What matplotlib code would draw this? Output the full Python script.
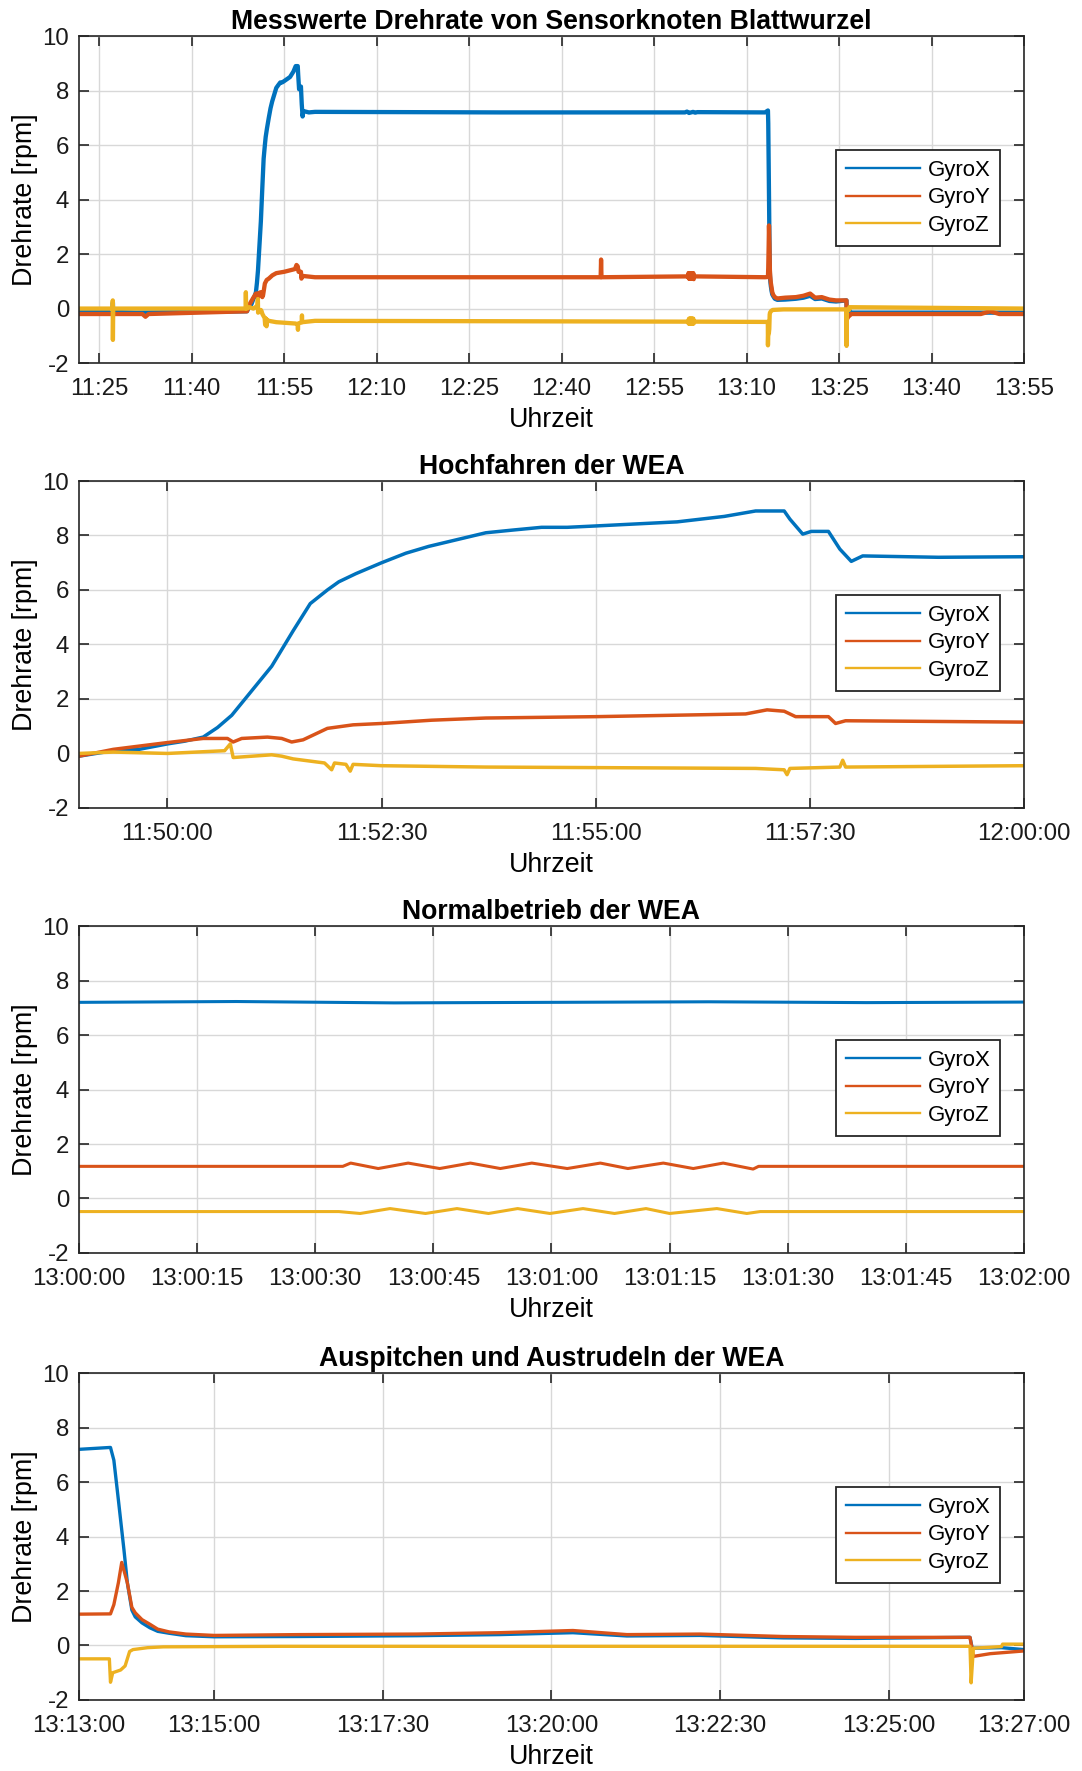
"""Drehrate der Sensorknoten an der Blattwurzel: Gesamtverlauf und drei Ausschnitte."""

import matplotlib

matplotlib.use("Agg")

import matplotlib.pyplot as plt
from matplotlib.lines import Line2D

plt.rcParams["font.family"] = ["Liberation Sans", "DejaVu Sans"]

# Stuetzstellen der Messreihen (Uhrzeit, Drehrate in rpm)
GYRO_X_TIME = [
    "11:21:43", "11:27:10", "11:27:13", "11:27:16", "11:31:00", "11:48:58",
    "11:49:22", "11:49:40", "11:50:00", "11:50:12", "11:50:25", "11:50:35",
    "11:50:45", "11:51:13", "11:51:28", "11:51:40", "11:51:52", "11:52:00",
    "11:52:12", "11:52:30", "11:52:47", "11:53:03", "11:53:23", "11:53:43",
    "11:54:02", "11:54:22", "11:54:40", "11:55:00", "11:55:57", "11:56:30",
    "11:56:52", "11:57:12", "11:57:16", "11:57:25", "11:57:31", "11:57:43",
    "11:57:51", "11:57:59", "11:58:07", "11:59:00", "12:00:00", "12:30:00",
    "13:00:00", "13:00:20", "13:00:40", "13:01:00", "13:01:20", "13:01:40",
    "13:02:00", "13:13:00", "13:13:28", "13:13:31", "13:13:35", "13:13:40",
    "13:13:43", "13:13:47", "13:13:50", "13:13:56", "13:14:03", "13:14:10",
    "13:14:20", "13:14:35", "13:15:00", "13:16:16", "13:18:00", "13:19:14",
    "13:20:19", "13:21:07", "13:22:12", "13:23:26", "13:24:30", "13:26:12",
    "13:26:14", "13:26:40", "13:27:00", "13:55:00",
]
GYRO_X = [
    -0.12, -0.12, 0.22, -0.12, -0.15, -0.1,
    0.1, 0.15, 0.35, 0.45, 0.6, 0.95,
    1.4, 3.2, 4.5, 5.5, 6.0, 6.3,
    6.6, 7.0, 7.35, 7.6, 7.85, 8.1,
    8.2, 8.3, 8.3, 8.35, 8.5, 8.7,
    8.9, 8.9, 8.6, 8.05, 8.15, 8.15,
    7.5, 7.05, 7.25, 7.2, 7.22, 7.2,
    7.2, 7.23, 7.18, 7.2, 7.22, 7.19,
    7.21, 7.2, 7.27, 6.8, 5.35, 3.5,
    2.3, 1.3, 1.05, 0.83, 0.65, 0.52,
    0.45, 0.36, 0.32, 0.33, 0.36, 0.4,
    0.47, 0.35, 0.37, 0.28, 0.26, 0.3,
    -0.1, -0.08, -0.15, -0.15,
]

GYRO_Y_TIME = [
    "11:21:43", "11:32:00", "11:32:30", "11:33:00", "11:48:58", "11:49:22",
    "11:50:00", "11:50:25", "11:50:42", "11:50:46", "11:50:52", "11:51:10",
    "11:51:20", "11:51:27", "11:51:35", "11:51:52", "11:52:10", "11:52:30",
    "11:53:05", "11:53:43", "11:55:00", "11:56:45", "11:57:00", "11:57:12",
    "11:57:20", "11:57:43", "11:57:48", "11:57:55", "12:00:00", "12:46:20",
    "12:46:24", "12:46:28", "13:00:00", "13:00:33.5", "13:00:34.5",
    "13:00:38", "13:00:41.8", "13:00:45.8", "13:00:49.7", "13:00:53.5",
    "13:00:57.5", "13:01:02", "13:01:06.2", "13:01:09.7", "13:01:14.2",
    "13:01:18", "13:01:21.8", "13:01:25.6", "13:01:26.3", "13:02:00",
    "13:13:00", "13:13:28", "13:13:31", "13:13:35", "13:13:38", "13:13:43",
    "13:13:47", "13:13:50", "13:13:56", "13:14:03", "13:14:10", "13:14:20",
    "13:14:35", "13:15:00", "13:16:16", "13:18:00", "13:19:14", "13:20:19",
    "13:21:07", "13:22:12", "13:23:26", "13:24:30", "13:26:12", "13:26:15",
    "13:26:30", "13:27:00", "13:48:00", "13:49:30", "13:51:00", "13:55:00",
]
GYRO_Y = [
    -0.2, -0.2, -0.3, -0.2, -0.1, 0.15,
    0.4, 0.55, 0.55, 0.42, 0.55, 0.6,
    0.55, 0.42, 0.5, 0.92, 1.05, 1.1,
    1.22, 1.3, 1.35, 1.45, 1.6, 1.55,
    1.35, 1.35, 1.1, 1.2, 1.15, 1.15,
    1.8, 1.15, 1.18, 1.18, 1.3,
    1.1, 1.3, 1.1, 1.3, 1.1,
    1.3, 1.1, 1.3, 1.1, 1.3,
    1.1, 1.3, 1.08, 1.18, 1.18,
    1.15, 1.16, 1.5, 2.3, 3.05, 2.3,
    1.4, 1.2, 0.95, 0.78, 0.6, 0.5,
    0.42, 0.37, 0.4, 0.42, 0.47, 0.55,
    0.4, 0.42, 0.33, 0.3, 0.3, -0.4,
    -0.3, -0.2, -0.2, -0.1, -0.2, -0.2,
]

GYRO_Z_TIME = [
    "11:21:43", "11:27:10", "11:27:12", "11:27:13", "11:27:16", "11:48:45",
    "11:48:47", "11:48:50", "11:48:58", "11:49:22", "11:50:00", "11:50:40",
    "11:50:44", "11:50:46", "11:51:13", "11:51:20", "11:51:28", "11:51:50",
    "11:51:55", "11:51:57", "11:52:05", "11:52:08", "11:52:10", "11:52:30",
    "11:53:43", "11:55:00", "11:56:52", "11:57:12", "11:57:14", "11:57:16",
    "11:57:51", "11:57:53", "11:57:55", "12:00:00", "13:00:00", "13:00:33",
    "13:00:35.7", "13:00:39.5", "13:00:44", "13:00:48", "13:00:52",
    "13:00:55.7", "13:00:59.8", "13:01:04", "13:01:08", "13:01:12",
    "13:01:15", "13:01:21", "13:01:24.8", "13:01:26.5", "13:02:00",
    "13:13:00", "13:13:27", "13:13:28", "13:13:30", "13:13:37", "13:13:41",
    "13:13:45", "13:13:48", "13:14:01", "13:14:15", "13:16:00", "13:26:12",
    "13:26:13", "13:26:15", "13:26:40", "13:26:41", "13:27:00", "13:55:00",
]
GYRO_Z = [
    0.0, 0.0, 0.3, -1.15, 0.0, 0.0,
    0.6, 0.0, 0.0, 0.05, 0.0, 0.1,
    0.35, -0.15, -0.05, -0.1, -0.2, -0.35,
    -0.6, -0.35, -0.4, -0.65, -0.4, -0.45,
    -0.5, -0.52, -0.55, -0.6, -0.78, -0.55,
    -0.5, -0.25, -0.5, -0.45, -0.48, -0.48,
    -0.55, -0.37, -0.55, -0.37, -0.55,
    -0.37, -0.55, -0.37, -0.55, -0.37,
    -0.55, -0.37, -0.55, -0.48, -0.48,
    -0.49, -0.49, -1.35, -1.0, -0.9, -0.75,
    -0.22, -0.15, -0.08, -0.05, -0.03, -0.03,
    -1.37, -0.1, -0.04, 0.05, 0.05, 0.0,
]

SERIES_NAMES = ["GyroX", "GyroY", "GyroZ"]
SERIES_COLORS = ["#0072BD", "#D95319", "#EDB120"]

PANEL_TITLES = [
    "Messwerte Drehrate von Sensorknoten Blattwurzel",
    "Hochfahren der WEA",
    "Normalbetrieb der WEA",
    "Auspitchen und Austrudeln der WEA",
]
PANEL_XLIMS = [
    ("11:21:43", "13:55:00"),
    ("11:48:58", "12:00:00"),
    ("13:00:00", "13:02:00"),
    ("13:13:00", "13:27:00"),
]
PANEL_TICKS = [
    ["11:25", "11:40", "11:55", "12:10", "12:25", "12:40", "12:55", "13:10", "13:25", "13:40", "13:55"],
    ["11:50:00", "11:52:30", "11:55:00", "11:57:30", "12:00:00"],
    ["13:00:00", "13:00:15", "13:00:30", "13:00:45", "13:01:00",
     "13:01:15", "13:01:30", "13:01:45", "13:02:00"],
    ["13:13:00", "13:15:00", "13:17:30", "13:20:00", "13:22:30", "13:25:00", "13:27:00"],
]
Y_TICKS = [-2, 0, 2, 4, 6, 8, 10]

PANEL_BOTTOMS = [0.7950, 0.5438, 0.2925, 0.0401]
PANEL_LINEWIDTHS = [3.1, 2.5, 2.2, 2.4]


def to_seconds(stamp: str) -> float:
    parts = stamp.split(":")
    hours, minutes = int(parts[0]), int(parts[1])
    seconds = float(parts[2]) if len(parts) > 2 else 0.0
    return hours * 3600 + minutes * 60 + seconds


def draw_panel(fig, index: int) -> None:
    ax = fig.add_axes([0.073, PANEL_BOTTOMS[index], 0.8734, 0.1846])
    series = [
        (GYRO_X_TIME, GYRO_X),
        (GYRO_Y_TIME, GYRO_Y),
        (GYRO_Z_TIME, GYRO_Z),
    ]
    for (times, values), color in zip(series, SERIES_COLORS):
        ax.plot([to_seconds(t) for t in times], values, color=color,
                linewidth=PANEL_LINEWIDTHS[index], solid_joinstyle="round")

    start, end = PANEL_XLIMS[index]
    ax.set_xlim(to_seconds(start), to_seconds(end))
    ax.set_ylim(-2, 10)
    ticks = PANEL_TICKS[index]
    ax.set_xticks([to_seconds(t) for t in ticks])
    ax.set_xticklabels(ticks)
    ax.set_yticks(Y_TICKS)
    ax.set_yticklabels([str(v) for v in Y_TICKS])

    ax.grid(True, color="#d8d8d8", linewidth=1.0)
    ax.set_axisbelow(True)
    ax.tick_params(direction="in", length=7, width=1.2, colors="#262626",
                   labelsize=17.3, top=True, right=True, labelcolor="#1a1a1a")
    ax.tick_params(axis="x", pad=10.5)
    ax.tick_params(axis="y", pad=7)
    for spine in ax.spines.values():
        spine.set_linewidth(1.2)
        spine.set_color("#262626")

    ax.set_title(PANEL_TITLES[index], fontsize=19.2, fontweight="bold", pad=5)
    ax.set_xlabel("Uhrzeit", fontsize=19.3, labelpad=5.5)
    ax.set_ylabel("Drehrate [rpm]", fontsize=19.3, labelpad=3)

    handles = [Line2D([], [], color=c, linewidth=1.7) for c in SERIES_COLORS]
    legend = ax.legend(handles, SERIES_NAMES, loc="center right",
                       bbox_to_anchor=(0.975, 0.505), fontsize=16,
                       handlelength=3.3, handletextpad=0.35, labelspacing=0.3,
                       borderpad=0.45, borderaxespad=0.0, fancybox=False,
                       framealpha=1.0, edgecolor="#262626")
    legend.get_frame().set_linewidth(1.3)


def main() -> None:
    fig = plt.figure(figsize=(10.82, 17.71), dpi=100)
    for index in range(4):
        draw_panel(fig, index)
    fig.savefig("out.png", dpi=100, facecolor="white")
    plt.close(fig)


if __name__ == "__main__":
    main()
